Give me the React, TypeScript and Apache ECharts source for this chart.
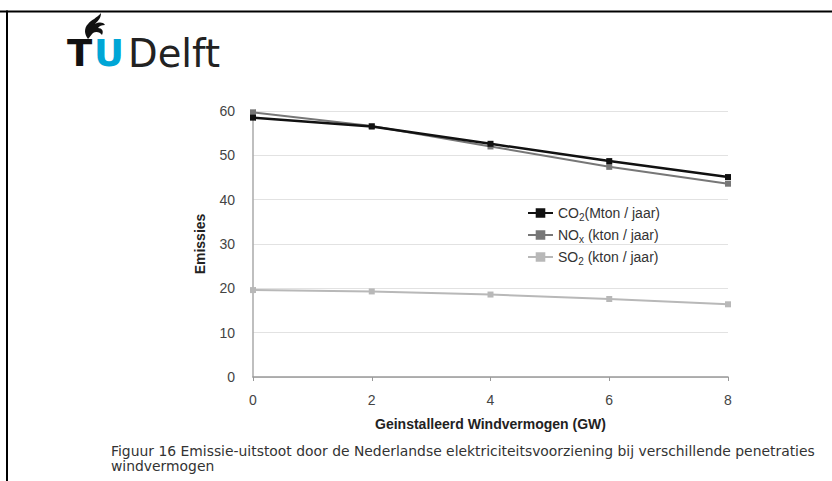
import React, { useEffect, useRef } from "react";
import * as echarts from "echarts";

const windGW = [0, 2, 4, 6, 8];
const co2 = [58.5, 56.5, 52.6, 48.7, 45.1];
const nox = [59.7, 56.6, 52.0, 47.4, 43.6];
const so2 = [19.6, 19.3, 18.6, 17.6, 16.4];
const seriesNames = ["CO2", "NOx", "SO2"];
const legendLabels: Record<string, string> = {
  CO2: "CO{sub|2}(Mton / jaar)",
  NOx: "NO{sub|x} (kton / jaar)",
  SO2: "SO{sub|2} (kton / jaar)",
};
const xAxisTitle = "Geinstalleerd Windvermogen (GW)";
const yAxisTitle = "Emissies";
const captionLine1 =
  "Figuur 16 Emissie-uitstoot door de Nederlandse elektriciteitsvoorziening bij verschillende penetraties";
const captionLine2 = "windvermogen";

const flamePath =
  "M10 26 C6 21 6 15 10 11 C13 7 19 5 23 0 C23 5 20 8 17 11 C21 9 25 9 27 12 C24 12 21 13 20 15 C24 15 26 18 24 22 C22 19 18 18 15 20 C13 22 12 24 10 26 Z";

export default function App() {
  const ref = useRef<HTMLDivElement>(null);
  useEffect(() => {
    document.body.style.margin = "0";
    if (!ref.current) return;
    echarts.graphic.registerShape("flame", echarts.graphic.extendPath(flamePath, {}));
    const chart = echarts.init(ref.current, null, { renderer: "svg" });
    const data = [co2, nox, so2];
    const colors = ["#111111", "#777777", "#b8b8b8"];
    const widths = [2.5, 2, 2];
    const font = "Liberation Sans, Arial, sans-serif";
    const capFont = "13.9px DejaVu Sans, Verdana, sans-serif";

    chart.setOption({
      animation: false,
      backgroundColor: "#ffffff",
      grid: { left: 253, right: 104, top: 111, bottom: 104 },
      xAxis: {
        type: "value",
        min: 0,
        max: 8,
        interval: 2,
        name: xAxisTitle,
        nameLocation: "middle",
        nameGap: 40,
        nameTextStyle: { fontFamily: font, fontWeight: "bold", fontSize: 14, color: "#222" },
        axisLine: { show: true, lineStyle: { color: "#999", width: 1.5 } },
        axisTick: { show: true, length: 4, lineStyle: { color: "#999" } },
        axisLabel: { fontFamily: font, fontSize: 14, color: "#444", margin: 16 },
        splitLine: { show: false },
      },
      yAxis: {
        type: "value",
        min: 0,
        max: 60,
        interval: 10,
        name: yAxisTitle,
        nameLocation: "middle",
        nameGap: 46,
        nameTextStyle: { fontFamily: font, fontWeight: "bold", fontSize: 14, color: "#222" },
        axisLine: { show: true, lineStyle: { color: "#aaa", width: 1.5 } },
        axisTick: { show: false },
        axisLabel: { fontFamily: font, fontSize: 14, color: "#444", margin: 18 },
        splitLine: { show: true, lineStyle: { color: "#e2e2e2", width: 1 } },
      },
      legend: {
        orient: "vertical",
        left: 522,
        top: 201,
        itemGap: 6,
        itemWidth: 25,
        itemHeight: 12,
        data: seriesNames,
        formatter: (name: string) => legendLabels[name],
        textStyle: {
          fontFamily: font,
          fontSize: 14,
          color: "#333",
          rich: {
            sub: { fontFamily: font, fontSize: 10, color: "#333", padding: [8, 0, 0, 0] },
          },
        },
      },
      series: seriesNames.map((n, i) => ({
        name: n,
        type: "line",
        data: windGW.map((x, j) => [x, data[i][j]]),
        symbol: "rect",
        symbolSize: 6,
        z: 3 - i,
        lineStyle: { color: colors[i], width: widths[i] },
        itemStyle: { color: colors[i] },
      })),
      graphic: [
        { type: "rect", shape: { x: 0, y: 10.5, width: 832, height: 2 }, style: { fill: "#000" } },
        { type: "rect", shape: { x: 6, y: 10.5, width: 2, height: 471 }, style: { fill: "#000" } },
        {
          type: "flame",
          x: 78,
          y: 13,
          scaleX: 1.0,
          scaleY: 1.0,
          style: { fill: "#111" },
        },
        {
          type: "text",
          x: 67,
          y: 35,
          style: { text: "T", font: "bold 37px DejaVu Sans, sans-serif", fill: "#111" },
        },
        {
          type: "text",
          x: 94,
          y: 35,
          style: { text: "U", font: "bold 37px DejaVu Sans, sans-serif", fill: "#00a6d6" },
        },
        {
          type: "text",
          x: 128,
          y: 34,
          style: { text: "Delft", font: "38.5px DejaVu Sans, sans-serif", fill: "#222" },
        },
        {
          type: "text",
          x: 111,
          y: 451,
          style: {
            text: captionLine1,
            font: capFont,
            fill: "#333",
            verticalAlign: "middle",
          },
        },
        {
          type: "text",
          x: 111,
          y: 466,
          style: {
            text: captionLine2,
            font: capFont,
            fill: "#333",
            verticalAlign: "middle",
          },
        },
      ],
    });
    return () => chart.dispose();
  }, []);
  return <div ref={ref} style={{ width: 832, height: 481 }} />;
}
